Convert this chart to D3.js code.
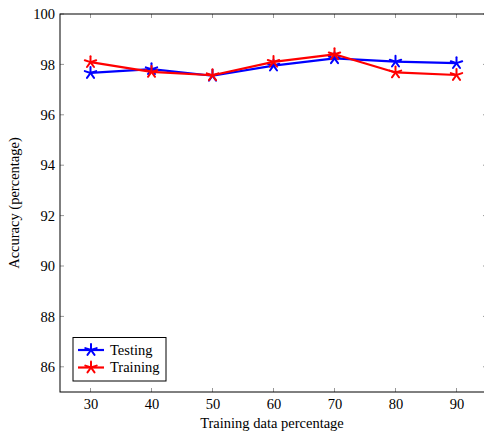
<!DOCTYPE html>
<html><head><meta charset="utf-8">
<script src="https://cdn.jsdelivr.net/npm/d3@7"></script>
<style>body{margin:0;background:#fff}svg{display:block}</style>
</head><body><svg id="c" width="484" height="432"></svg>
<script>
const categories = [30, 40, 50, 60, 70, 80, 90];
const testing = [97.66, 97.81, 97.55, 97.95, 98.24, 98.11, 98.05];
const training = [98.09, 97.70, 97.57, 98.10, 98.40, 97.68, 97.58];
const yTicks = [86, 88, 90, 92, 94, 96, 98, 100];
const seriesNames = ["Testing", "Training"];
const colors = ["#0000ff", "#ff0000"];

const FS = "14.5px";
const FF = '"Liberation Serif"';
const svg = d3.select("#c");
const L = 60, T = 14, R = 487, B = 392;
const x = d3.scaleLinear().domain([25, 95]).range([L, R]);
const y = d3.scaleLinear().domain([85, 100]).range([B, T]);

// ticks (inside, all four sides)
const tg = svg.append("g").attr("stroke", "#999").attr("stroke-width", 1);
categories.forEach(c => {
  tg.append("line").attr("x1", x(c)).attr("x2", x(c)).attr("y1", B).attr("y2", B - 4);
  tg.append("line").attr("x1", x(c)).attr("x2", x(c)).attr("y1", T).attr("y2", T + 4);
});
yTicks.forEach(v => {
  tg.append("line").attr("x1", L).attr("x2", L + 4).attr("y1", y(v)).attr("y2", y(v));
  tg.append("line").attr("x1", R).attr("x2", R - 4).attr("y1", y(v)).attr("y2", y(v));
});

const xa = svg.append("g").attr("transform", `translate(0,${B})`)
  .call(d3.axisBottom(x).tickValues(categories).tickSize(0).tickPadding(7));
xa.select(".domain").remove();
xa.selectAll("text").style("font-family", FF).style("font-size", FS).attr("fill", "#000");
const ya = svg.append("g").attr("transform", `translate(${L},0)`)
  .call(d3.axisLeft(y).tickValues(yTicks).tickSize(0).tickPadding(5));
ya.select(".domain").remove();
ya.selectAll("text").style("font-family", FF).style("font-size", FS).attr("fill", "#000");

// frame
svg.append("rect").attr("x", L).attr("y", T).attr("width", R - L).attr("height", B - T)
  .attr("fill", "none").attr("stroke", "#000").attr("stroke-width", 1);

function star(g, cx, cy, color, r) {
  for (let k = 0; k < 5; k++) {
    const a = (-90 + 72 * k) * Math.PI / 180;
    g.append("line").attr("x1", cx).attr("y1", cy)
      .attr("x2", cx + r * Math.cos(a)).attr("y2", cy + r * Math.sin(a))
      .attr("stroke", color).attr("stroke-width", 2).attr("stroke-linecap", "round");
  }
}

const line = d3.line().x((d, i) => x(categories[i])).y(d => y(d));
[testing, training].forEach((s, si) => {
  svg.append("path").datum(s).attr("d", line).attr("fill", "none")
    .attr("stroke", colors[si]).attr("stroke-width", 2.2).attr("stroke-linejoin", "round");
  const g = svg.append("g");
  s.forEach((v, i) => star(g, x(categories[i]), y(v), colors[si], 6));
});

// legend
const lg = svg.append("g");
lg.append("rect").attr("x", 73).attr("y", 337.5).attr("width", 93).attr("height", 43.5)
  .attr("fill", "#fff").attr("stroke", "#000").attr("stroke-width", 1);
seriesNames.forEach((n, i) => {
  const yy = 350 + i * 17.5;
  lg.append("line").attr("x1", 78).attr("x2", 104).attr("y1", yy).attr("y2", yy)
    .attr("stroke", colors[i]).attr("stroke-width", 2.2);
  star(lg, 91, yy, colors[i], 6);
  lg.append("text").attr("x", 110).attr("y", yy + 4.5)
    .style("font-family", FF).style("font-size", FS).text(n);
});

svg.append("text").attr("x", 272).attr("y", 428).attr("text-anchor", "middle")
  .style("font-family", FF).style("font-size", FS).text("Training data percentage");
svg.append("text").attr("transform", `translate(19,${(T + B) / 2}) rotate(-90)`)
  .attr("text-anchor", "middle")
  .style("font-family", FF).style("font-size", FS).text("Accuracy (percentage)");
</script></body></html>
